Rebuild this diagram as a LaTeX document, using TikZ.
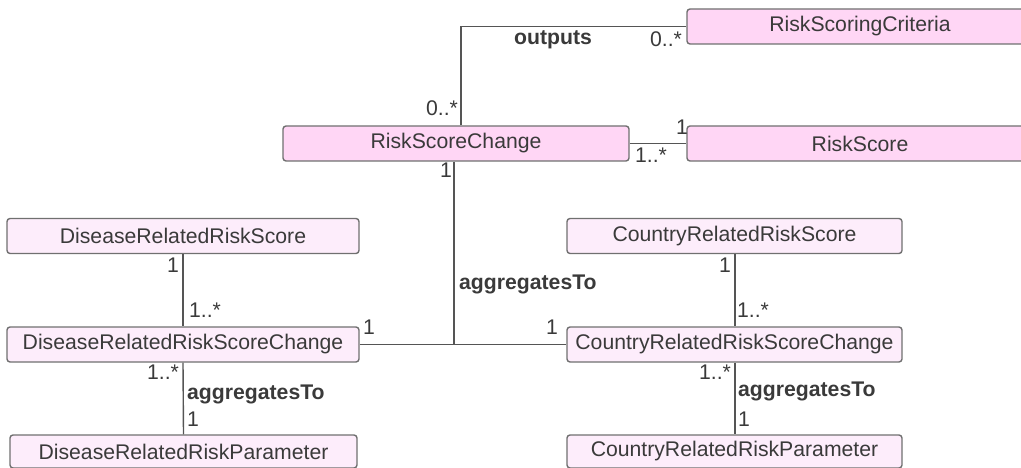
\documentclass[tikz,border=0pt]{standalone}
\usepackage{fontspec}
\setmainfont{Liberation Sans}
\definecolor{pinkA}{HTML}{FFD6F5}
\definecolor{pinkB}{HTML}{FDEDFB}
\definecolor{edge}{HTML}{707070}
\definecolor{wire}{HTML}{555555}
\definecolor{txt}{HTML}{3A3A3A}
\begin{document}
\begin{tikzpicture}[x=1pt,y=-1pt,
  every node/.style={font=\fontsize{21.2}{25}\selectfont, text=txt, inner sep=0pt},
  cls/.style={draw=edge, line width=1.4pt, rounded corners=3pt, minimum height=35pt},
  clsA/.style={cls, fill=pinkA},
  clsB/.style={cls, fill=pinkB},
  wireline/.style={draw=wire, line width=1.4pt},
  role/.style={font=\fontsize{21.2}{25}\selectfont\bfseries}
]
\useasboundingbox (0,0) rectangle (1021,468);
\begin{scope}
\clip (0,0) rectangle (1021,468);
% top classes
\node[clsA, minimum width=346pt] (crit) at (860,26.5) {RiskScoringCriteria};
\node[clsA, minimum width=346pt] (rs) at (860,143.5) {RiskScore};
\node[clsA, minimum width=346pt] (rsc) at (456,143.5) {RiskScoreChange};
% disease
\node[clsB, minimum width=352pt] (drs) at (183,236) {DiseaseRelatedRiskScore};
\node[clsB, minimum width=352pt] (drc) at (183,344.5) {DiseaseRelatedRiskScoreChange};
\node[clsB, minimum width=347pt, minimum height=33pt] (drp) at (183.5,451.5) {DiseaseRelatedRiskParameter};
% country
\node[clsB, minimum width=335pt] (crs) at (734.5,236) {CountryRelatedRiskScore};
\node[clsB, minimum width=335pt] (crc) at (734.5,344.5) {CountryRelatedRiskScoreChange};
\node[clsB, minimum width=335pt, minimum height=33pt] (crp) at (734.5,451.5) {CountryRelatedRiskParameter};
% connectors
\draw[wireline] ([xshift=5pt]rsc.north) |- (crit.west);
\draw[wireline] (rsc.east) -- (rs.west);
\draw[wireline] (drc.east) -- (crc.west);
\draw[wireline] ([xshift=-2pt]rsc.south) -- ([xshift=-2pt]rsc.south |- drc.east);
\draw[wireline] (drs.south) -- (drc.north);
\draw[wireline] (drc.south) -- (drp.north);
\draw[wireline] ([xshift=0.5pt]crs.south) -- ([xshift=0.5pt]crc.north);
\draw[wireline] ([xshift=0.5pt]crc.south) -- ([xshift=0.5pt]crp.north);
% labels
\node[role] (l1) at (553,40) {outputs};
\node (m1) at (666,39) {0..*};
\node (m2) at (442,108) {0..*};
\node (m3) at (682,127) {1};
\node (m4) at (651,155) {1..*};
\node (m5) at (446,170) {1};
\node[role, anchor=west] (l2) at (459,284) {aggregatesTo};
\node (m6) at (369,327) {1};
\node (m7) at (552,327) {1};
\node (m8) at (173,265) {1};
\node (m9) at (205,310) {1..*};
\node (m10) at (163,372) {1..*};
\node[role, anchor=west] (l3) at (187,394) {aggregatesTo};
\node (m11) at (193,419) {1};
\node (m12) at (725,265) {1};
\node (m13) at (753,310) {1..*};
\node (m14) at (715,372) {1..*};
\node[role, anchor=west] (l4) at (738,391) {aggregatesTo};
\node (m15) at (744,419) {1};
\end{scope}
\end{tikzpicture}
\end{document}
